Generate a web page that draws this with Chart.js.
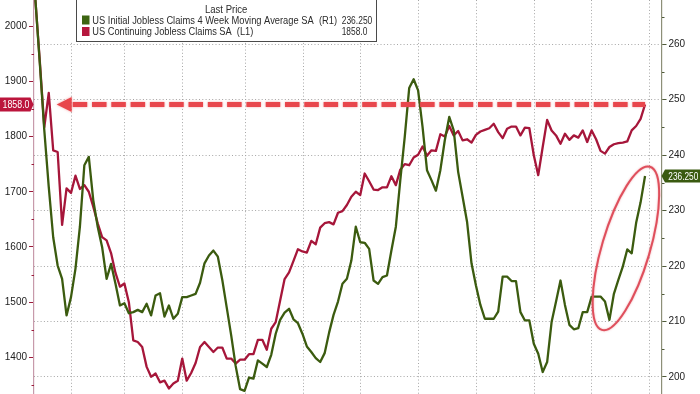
<!DOCTYPE html>
<html><head><meta charset="utf-8">
<script src="https://cdn.jsdelivr.net/npm/chart.js@4.4.1/dist/chart.umd.min.js"></script>
<style>html,body{margin:0;padding:0;background:#fff;overflow:hidden}#wrap{width:700px;height:394px;position:relative}</style>
</head><body><div id="wrap"><canvas id="c" width="700" height="394"></canvas></div>
<script>
// ---- data (weekly observations, oldest first) ----
const weeks = Array.from({length: 138}, (_, i) => i);
const continuingClaims = [2047,1935,1817,1879,1775,1772,1640,1706,1698,1729,
1705,1712,1700,1673,1643,1618,1612,1589,1553,1528,
1534,1500,1431,1428,1419,1383,1365,1371,1355,1358,
1344,1353,1358,1398,1358,1372,1390,1419,1428,1419,
1410,1418,1418,1398,1398,1389,1396,1396,1406,1406,
1432,1432,1414,1452,1464,1503,1542,1554,1575,1596,
1592,1590,1611,1605,1635,1643,1645,1641,1662,1665,
1676,1691,1700,1694,1733,1719,1704,1703,1708,1708,
1728,1712,1740,1750,1748,1762,1767,1782,1765,1775,
1774,1804,1800,1819,1802,1810,1793,1795,1789,1803,
1809,1812,1815,1823,1808,1797,1814,1818,1818,1802,
1816,1815,1766,1730,1781,1830,1811,1802,1787,1805,
1794,1802,1798,1811,1790,1811,1795,1774,1769,1781,
1786,1788,1789,1791,1811,1819,1832,1858];
const initialClaims4wk = [268,256.5,244.5,234.3,225.2,220.1,217.7,211.1,214.4,219.5,
227.1,238.2,239.7,231.9,227.1,223.4,217.7,220.4,216.8,212.9,
213.3,211.5,211.7,212.1,211.7,213.2,211.1,214.7,215.1,210.9,
212.9,210.5,211.4,214.4,214.4,214.7,215.0,217.0,220.5,221.9,
222.8,221.7,217.5,212.5,207.5,202.0,197.8,197.5,199.9,199.7,
203.0,202.4,201.8,204.0,207.8,210.3,211.6,212.3,210.4,209.7,
207.8,205.5,204.5,203.4,202.7,204.3,208.0,211.2,213.6,216.8,
217.7,221.0,227.1,224.3,224.2,223.1,217.4,216.8,218.0,218.3,
222.8,227.1,235.5,243.3,252.1,253.7,251.7,245.1,237.3,235.5,
233.6,237.3,242.7,246.9,244.5,237.0,232.5,228.0,220.5,216.5,
213.0,210.5,210.5,210.5,211.8,218.1,218.1,217.3,217.3,211.7,
210.2,210.2,206.0,204.2,200.9,202.7,209.9,213.6,217.4,213.0,
209.4,208.6,208.8,211.7,211.7,214.5,214.5,214.5,213.6,210.3,
215.0,217.5,219.9,223.0,222.3,227.8,231.5,236.25];
const leftTicks = [1350,1400,1450,1500,1550,1600,1650,1700,1750,1800,1850,1900,1950,2000];
const rightTicks = [200,205,210,215,220,225,230,235,240,245,250,255,260,265];
const quarterGridWeeks = [8.16,20.13,33.1,47.2,60.2,73.1,86.2,99.2,112.1,125.0,137.9];
const legendTitle = 'Last Price';
const initialLabel = 'US Initial Jobless Claims 4 Week Moving Average SA  (R1)';
const continuingLabel = 'US Continuing Jobless Claims SA  (L1)';
const lastInitial = '236.250';
const lastContinuing = '1858.0';

// ---- styling / annotation config ----
const RED = '#a6163a', GREEN = '#3b5b0f';
const arrowStartWeek = 4.79;
const ellipseCenter = {week: 132.7, value: 223.2};

function fitText(ctx, str, x, y, width, font, color) {
  ctx.save();
  ctx.font = font; ctx.fillStyle = color; ctx.textBaseline = 'alphabetic'; ctx.textAlign = 'left';
  const w = ctx.measureText(str).width;
  ctx.translate(x, y); ctx.scale(width / w, 1);
  ctx.fillText(str, 0, 0);
  ctx.restore();
}

const overlay = {
  id: 'overlay',
  afterDatasetsDraw(chart) {
    const {ctx, scales: {x, yL, yR}} = chart;
    ctx.save();
    // minor ticks
    ctx.lineWidth = 1;
    ctx.strokeStyle = '#9c1a3a';
    leftTicks.filter(v => v % 100 !== 0).forEach(v => {
      const y = Math.round(yL.getPixelForValue(v)) + 0.5;
      ctx.beginPath(); ctx.moveTo(31.5, y); ctx.lineTo(34, y); ctx.stroke();
    });
    ctx.strokeStyle = '#4f5a3a';
    rightTicks.filter(v => v % 10 !== 0).forEach(v => {
      const y = Math.round(yR.getPixelForValue(v)) + 0.5;
      ctx.beginPath(); ctx.moveTo(662, y); ctx.lineTo(664.5, y); ctx.stroke();
    });
    // dashed arrow at last continuing claims level
    const ya = yL.getPixelForValue(continuingClaims[continuingClaims.length - 1]);
    const xTip = x.getPixelForValue(arrowStartWeek);
    const xEnd = x.getPixelForValue(weeks[weeks.length - 1]);
    ctx.shadowColor = 'rgba(232,70,76,0.5)'; ctx.shadowBlur = 2.5;
    ctx.strokeStyle = '#e8464c'; ctx.lineWidth = 5; ctx.setLineDash([14.5, 4.8]);
    ctx.beginPath(); ctx.moveTo(xTip + 16, ya); ctx.lineTo(xEnd, ya); ctx.stroke();
    ctx.setLineDash([]);
    ctx.fillStyle = '#e8464c';
    ctx.beginPath(); ctx.moveTo(xTip, ya); ctx.lineTo(xTip + 15, ya - 7.5); ctx.lineTo(xTip + 15, ya + 7.5); ctx.closePath(); ctx.fill();
    // ellipse highlight
    const cx = x.getPixelForValue(ellipseCenter.week), cy = yR.getPixelForValue(ellipseCenter.value);
    ctx.shadowColor = 'rgba(224,80,92,0.5)'; ctx.shadowBlur = 2;
    ctx.strokeStyle = '#df4f5c'; ctx.lineWidth = 2;
    ctx.beginPath(); ctx.ellipse(cx, cy, 24, 85, 16.4 * Math.PI / 180, 0, Math.PI * 2); ctx.stroke();
    ctx.restore();
  },
  afterDraw(chart) {
    const {ctx, scales: {yL, yR}} = chart;
    ctx.save();
    // legend box
    ctx.fillStyle = '#fff';
    ctx.fillRect(60, 0, 317, 42);
    ctx.strokeStyle = '#4a4a4a'; ctx.lineWidth = 1;
    ctx.strokeRect(76.5, -2, 300, 43.5);
    const f = '10px "Liberation Sans", Arial, sans-serif';
    fitText(ctx, legendTitle, 205, 13, 42.3, f, '#2b2b2b');
    ctx.fillStyle = '#3d6512'; ctx.fillRect(82, 15.5, 7.5, 9);
    ctx.fillStyle = '#b5173d'; ctx.fillRect(82, 27, 7.5, 9);
    fitText(ctx, initialLabel, 92.3, 24, 244.7, f, '#2b2b2b');
    fitText(ctx, continuingLabel, 92.3, 35, 161, f, '#2b2b2b');
    fitText(ctx, lastInitial, 341.7, 24, 30.6, f, '#2b2b2b');
    fitText(ctx, lastContinuing, 341.7, 35, 25.6, f, '#2b2b2b');
    // last value badges
    const yl = yL.getPixelForValue(continuingClaims[continuingClaims.length - 1]);
    ctx.fillStyle = '#bb153c';
    ctx.beginPath(); ctx.moveTo(0, yl - 7); ctx.lineTo(30.5, yl - 7); ctx.lineTo(33.5, yl); ctx.lineTo(30.5, yl + 7); ctx.lineTo(0, yl + 7); ctx.closePath(); ctx.fill();
    fitText(ctx, lastContinuing, 2.5, yl + 4, 27, f, '#fff');
    const yr = yR.getPixelForValue(initialClaims4wk[initialClaims4wk.length - 1]);
    ctx.fillStyle = '#3a5a10';
    ctx.beginPath(); ctx.moveTo(700, yr - 6.5); ctx.lineTo(665, yr - 6.5); ctx.lineTo(661.5, yr); ctx.lineTo(665, yr + 6.5); ctx.lineTo(700, yr + 6.5); ctx.closePath(); ctx.fill();
    fitText(ctx, lastInitial, 668.3, yr + 4, 30, f, '#fff');
    ctx.restore();
  }
};

const tickFont = {size: 10, family: '"Liberation Sans Narrow", "Liberation Sans", Arial, sans-serif'};

new Chart(document.getElementById('c'), {
  type: 'line',
  data: {
    datasets: [
      {label: continuingLabel, data: continuingClaims.map((v, i) => ({x: weeks[i], y: v})), yAxisID: 'yL',
       borderColor: RED, borderWidth: 2.3, pointRadius: 0, tension: 0, borderJoinStyle: 'round', order: 2},
      {label: initialLabel, data: initialClaims4wk.map((v, i) => ({x: weeks[i], y: v})), yAxisID: 'yR',
       borderColor: GREEN, borderWidth: 2.3, pointRadius: 0, tension: 0, borderJoinStyle: 'round', order: 1}
    ]
  },
  options: {
    responsive: false, animation: false, events: [],
    layout: {padding: 0},
    plugins: {legend: {display: false}, tooltip: {enabled: false}},
    scales: {
      x: {
        type: 'linear', min: -0.315, max: 140.81,
        afterBuildTicks: s => { s.ticks = quarterGridWeeks.map(v => ({value: v})); },
        ticks: {display: false},
        grid: {color: '#a6a6a6', lineWidth: 1, drawTicks: false},
        border: {display: false, dash: [1, 2.3]},
        afterFit: s => { s.height = 0; s.paddingLeft = 0; s.paddingRight = 0; }
      },
      yL: {
        position: 'left', min: 1333.9, max: 2047.1,
        afterBuildTicks: s => { s.ticks = leftTicks.map(v => ({value: v})); },
        ticks: {autoSkip: false, padding: 2, color: '#222', font: tickFont,
                callback: v => (v % 100 === 0 ? String(v) : '')},
        grid: {drawOnChartArea: false, drawTicks: true, tickLength: 5, tickWidth: 1,
               tickColor: c => (c.tick && c.tick.value % 100 === 0 ? '#9c1a3a' : 'rgba(0,0,0,0)')},
        border: {display: true, color: '#c79aab', width: 1.2},
        afterFit: s => { s.width = 34; s.paddingTop = 0; s.paddingBottom = 0; }
      },
      yR: {
        position: 'right', min: 196.93, max: 267.99,
        afterBuildTicks: s => { s.ticks = rightTicks.map(v => ({value: v})); },
        ticks: {autoSkip: false, padding: 2, color: '#222', font: tickFont,
                callback: v => (v % 10 === 0 ? String(v) : '')},
        grid: {drawTicks: true, tickLength: 4.5, tickWidth: 1,
               color: c => (c.tick && c.tick.value % 10 === 0 ? '#a6a6a6' : 'rgba(0,0,0,0)'),
               tickColor: c => (c.tick && c.tick.value % 10 === 0 ? '#4f5a3a' : 'rgba(0,0,0,0)')},
        border: {display: true, color: '#8d8f78', width: 1.2, dash: [1, 2.3]},
        afterFit: s => { s.width = 38; s.paddingTop = 0; s.paddingBottom = 0; }
      }
    }
  },
  plugins: [overlay]
});
</script>
</body></html>
